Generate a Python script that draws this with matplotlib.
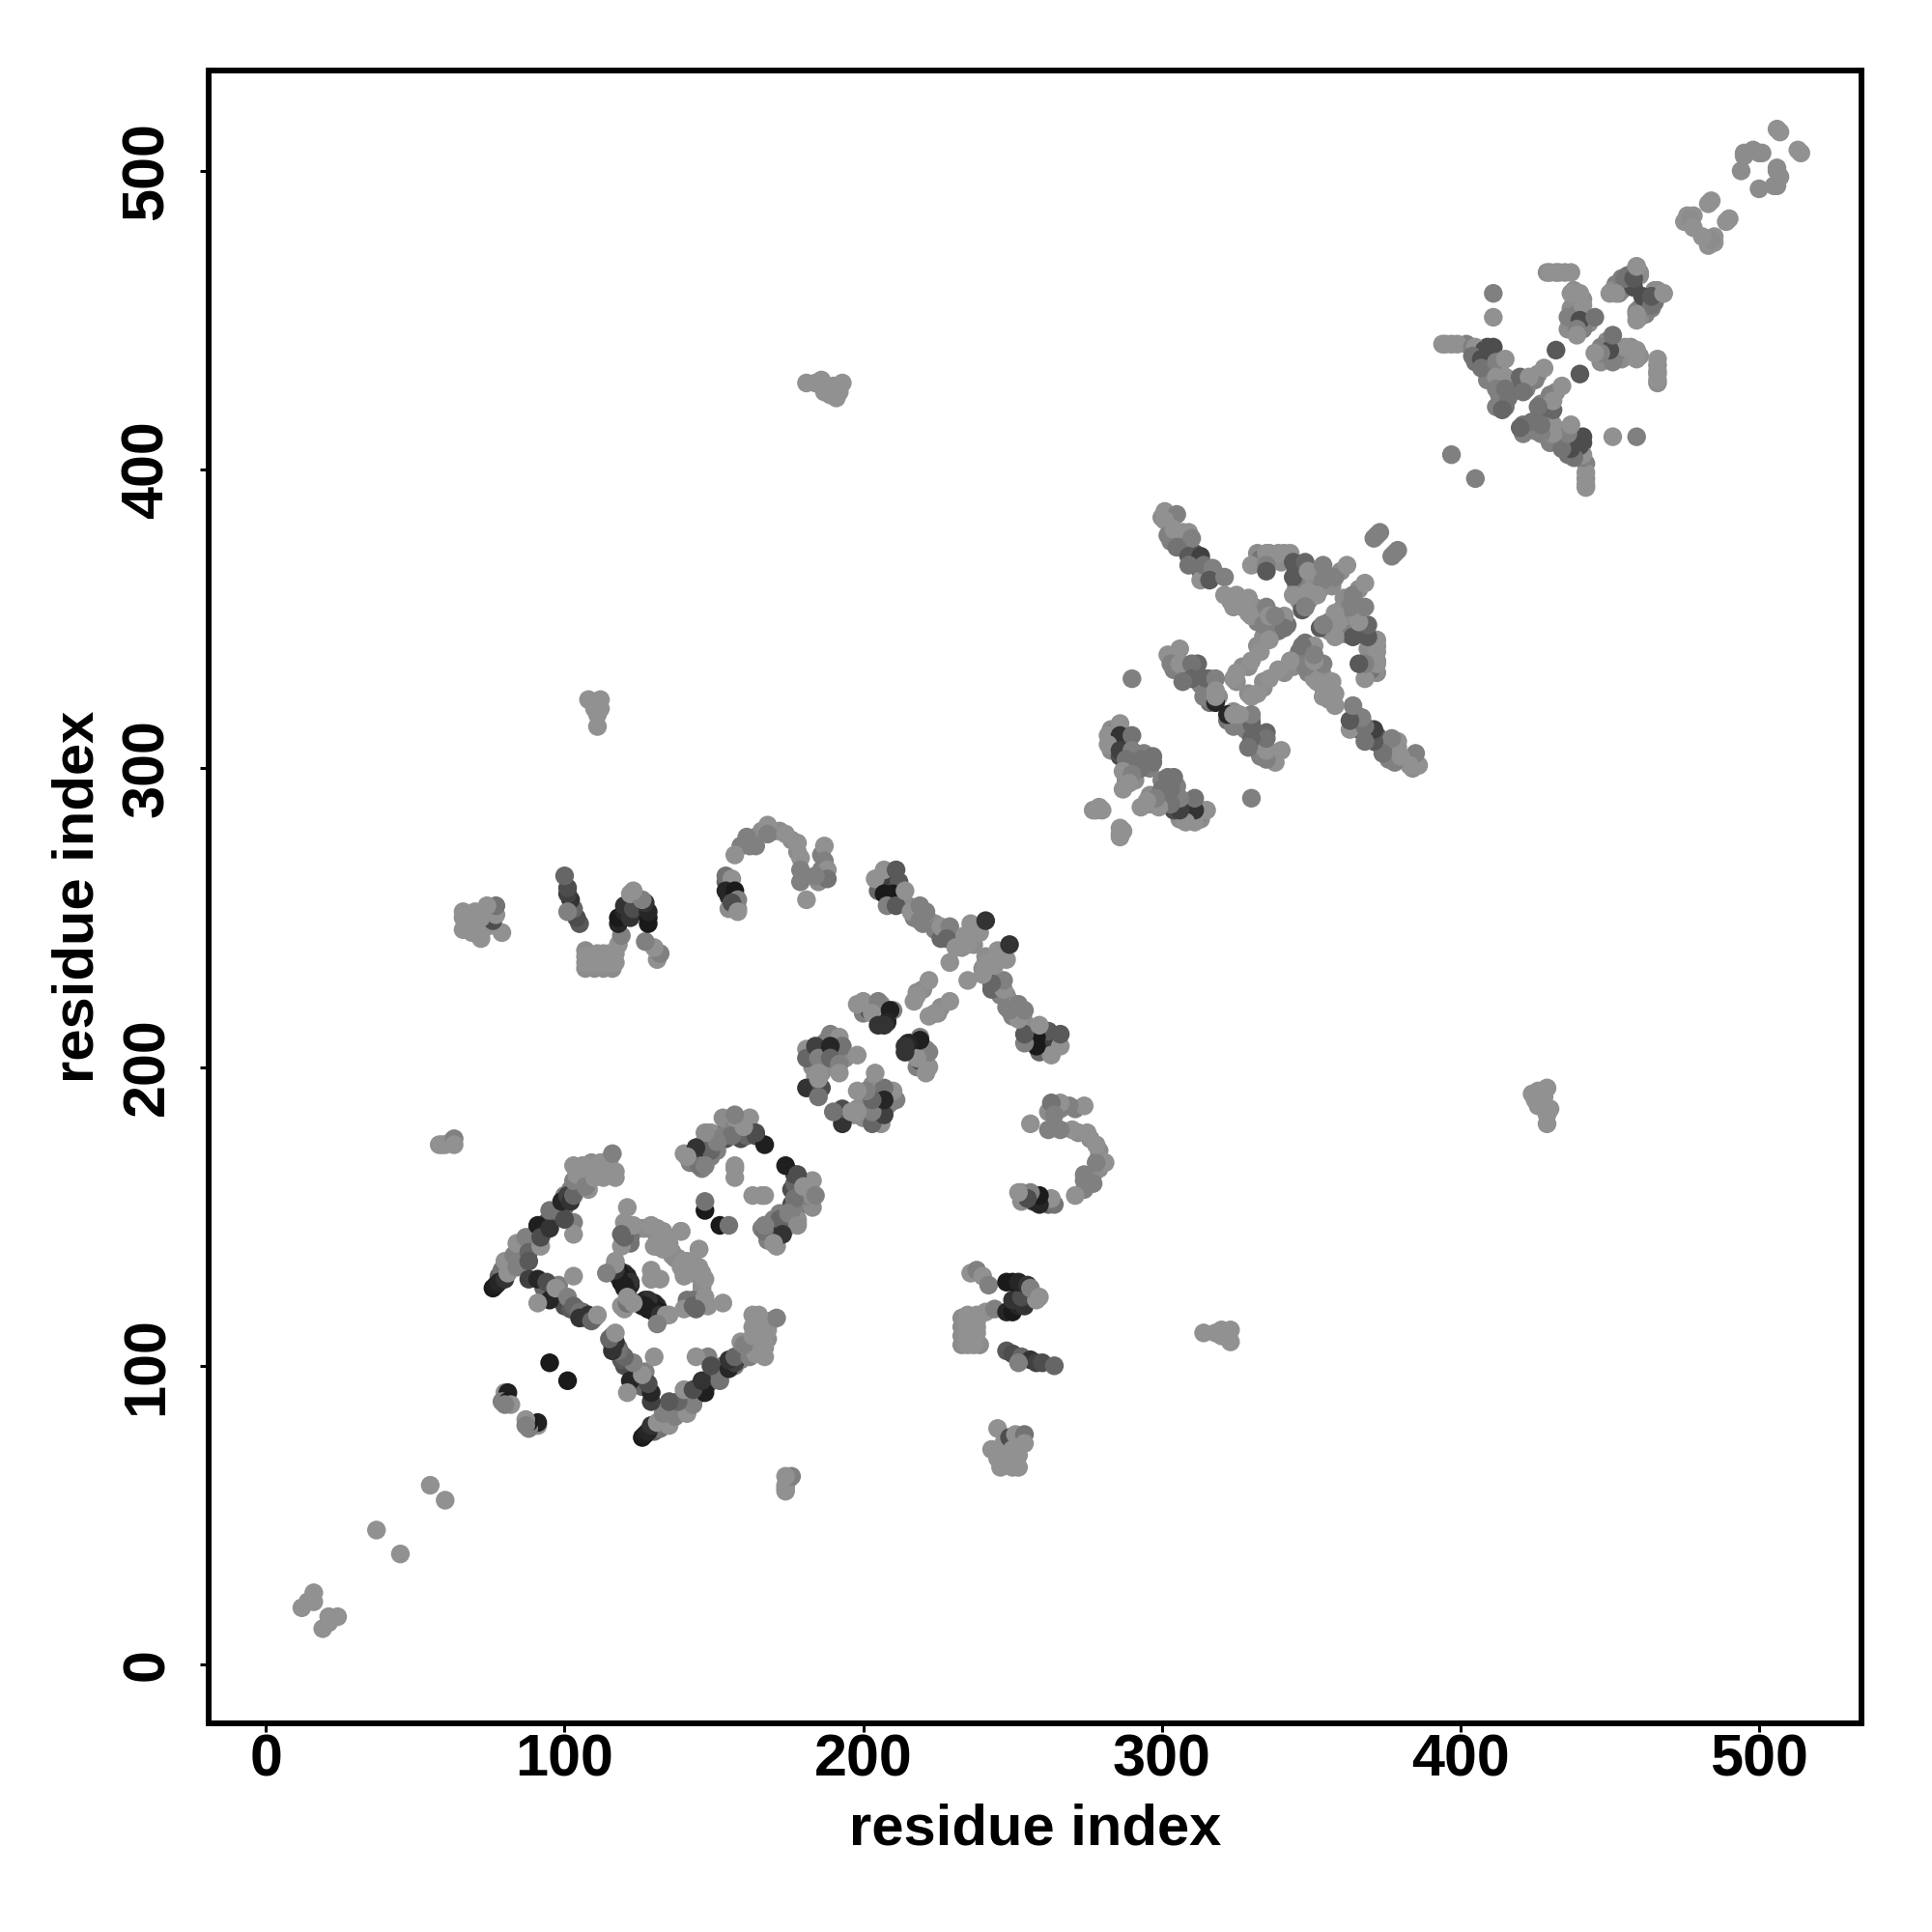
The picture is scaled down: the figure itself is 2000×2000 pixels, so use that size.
import matplotlib
matplotlib.use("Agg")
import matplotlib.pyplot as plt

L = 0.57
fill_i = [
 78,79,82,85,86,89,90,93,94,96,97,98,100,100,102,104,105,106,108,110,112,114,115,106,109,
 93,96,98,99,100,102,104,106,107,110,98,
 117,118,119,119,120,121,121,126,127,128,129,131,122,122,127,131,134,136,137,139,141,143,146,146,143,
 142,143,144,146,146,148,150,150,151,153,154,155,156,158,158,159,161,146,149,153,157,158,159,160,161,149,151,
 183,186,187,188,190,190,191,191,189,193,194,190,183,184,186,187,185,
 200,202,204,206,206,205,208,210,206,
 205,208,209,209,213,215,217,218,220,220,222,224,224,226,228,230,232,233,235,237,220,218,
 159,162,164,166,170,172,176,178,180,186,185,187,186,154,155,155,156,155,158,
 300,303,303,306,307,307,308,311,311,313,315,318,323,326,327,331,332,331,335,337,339,339,342,337,
 332,336,341,333,337,340,345,346,345,347,345,348,350,352,351,353,355,357,360,349,346,347,
 334,332,329,327,325,303,305,304,308,311,312,312,313,316,316,319,316,
 284,283,284,283,285,286,288,288,288,290,294,295,289,291,291,293,296,288,297,291,
 397,402,406,406,409,405,408,409,410,409,413,413,413,413,416,414,412,416,418,422,419,426,425,
 429,432,435,438,438,441,437,439,441,442,437,436,443,440,441,
 452,456,457,460,462,463,465,460,460,
 107,110,113,116,108,110,112,114,116,107,
]
fill_j = [
 130,132,134,136,139,141,144,145,148,149,150,152,153,157,159,160,162,164,165,166,165,167,169,167,168,
 126,124,124,122,120,119,119,118,116,116,127,
 133,130,131,128,131,130,126,120,122,119,120,118,145,141,146,140,143,138,136,134,131,131,126,124,122,
 168,170,171,170,174,173,174,177,175,178,176,179,177,179,181,177,180,166,170,183,181,178,176,178,177,178,172,
 204,206,208,209,207,205,204,202,203,205,203,200,200,197,198,200,194,
 218,219,219,218,216,216,216,219,221,
 259,262,261,256,255,254,250,250,252,248,249,248,246,243,245,243,242,240,243,241,226,225,
 274,274,277,279,279,279,276,272,264,266,262,265,271,262,261,257,257,253,253,
 384,381,376,377,379,374,373,372,368,366,365,365,356,355,354,354,349,351,352,350,349,346,348,347,
 372,372,372,370,370,369,366,365,362,361,360,362,364,365,362,360,365,361,366,356,356,353,
 344,341,334,334,329,337,338,333,332,331,335,330,328,326,322,324,330,
 309,313,312,306,309,304,308,311,304,303,305,302,300,300,296,302,300,296,302,304,
 442,442,440,438,441,436,435,433,436,430,434,431,428,425,428,423,421,424,430,427,428,432,430,
 466,466,466,460,457,457,454,452,451,450,449,447,449,448,447,
 462,465,462,466,457,456,460,454,451,
 233,233,233,233,234,234,234,234,234,239,
]
fill_shade = [
 .4,.45,.5,.5,.5,.5,.4,.35,.3,.3,.4,.4,.45,.5,.5,.5,.5,.55,.55,.55,.55,.55,.55,.55,.55,
 .4,.4,.45,.45,.3,.35,.4,.4,.35,.5,.5,
 .2,.1,.1,.12,.2,.15,.4,.15,.12,.1,.12,.12,.5,.45,.55,.55,.55,.55,.55,.55,.55,.55,.55,.55,.45,
 .5,.45,.3,.4,.55,.45,.3,.5,.35,.45,.3,.5,.35,.5,.55,.45,.55,.5,.5,.55,.5,.35,.3,.25,.4,.55,.5,
 .5,.4,.5,.5,.3,.2,.35,.45,.5,.5,.55,.5,.55,.55,.55,.55,.55,
 .5,.3,.2,.25,.2,.15,.15,.5,.55,
 .4,.45,.25,.2,.5,.55,.5,.5,.5,.5,.5,.55,.5,.4,.5,.5,.55,.55,.55,.55,.55,.55,
 .5,.5,.5,.55,.55,.55,.55,.55,.5,.5,.55,.5,.5,.4,.2,.2,.3,.55,.55,
 .55,.5,.5,.5,.55,.45,.4,.35,.4,.35,.35,.5,.55,.55,.55,.55,.5,.55,.5,.55,.5,.45,.45,.5,
 .55,.55,.55,.45,.55,.55,.3,.35,.3,.5,.5,.5,.5,.5,.55,.5,.5,.55,.55,.5,.55,.35,
 .55,.55,.55,.55,.55,.5,.5,.5,.55,.4,.4,.4,.5,.5,.45,.55,.5,
 .5,.55,.5,.55,.3,.3,.45,.4,.5,.45,.5,.45,.5,.55,.55,.5,.5,.55,.45,.4,
 .55,.5,.3,.4,.3,.45,.4,.5,.45,.5,.5,.5,.45,.5,.5,.45,.5,.45,.4,.5,.4,.55,.5,
 .55,.55,.55,.55,.55,.55,.55,.5,.45,.5,.5,.55,.55,.45,.5,
 .5,.45,.4,.55,.45,.5,.55,.55,.55,
 .55,.55,.55,.55,.55,.55,.55,.55,.55,.55,
]
res_i = [
 12,14,16,16,37,55,
 58,59,60,62,63,63,
 181,184,186,187,189,190,191,192,193,
 108,110,111,111,112,112,
 72,69,66,68,66,66,74,79,76,77,77,74,72,70,
 107,109,111,113,115,117,107,109,111,113,115,117,118,119,
 131,132,130,127,118,118,120,122,120,123,128,128,128,127,122,126,123,
 105,104,103,102,101,101,100,101,
 76,77,78,80,81,80,84,83,84,87,88,88,92,91,92,95,95,103,103,100,99,101,102,103,103,104,103,107,108,107,110,112,113,116,117,117,
 88,91,94,95,91,97,101,103,105,105,108,109,111,103,
 116,117,118,120,122,125,127,130,132,134,131,
 121,119,120,120,123,129,131,133,139,130,135,133,139,135,129,129,122,119,119,121,121,
 95,80,81,79,81,82,80,
 140,144,145,148,149,147,152,156,157,160,162,164,167,164,160,157,157,157,157,151,147,144,141,147,147,147,
 157,161,164,168,168,174,178,179,179,179,181,187,187,188,188,184,
 154,156,154,157,158,156,158,
 204,207,211,212,207,210,208,211,214,216,219,221,219,226,229,228,231,235,236,239,241,234,229,222,218,217,
 198,200,204,205,203,209,208,207,205,
 181,181,184,185,189,192,193,189,189,192,198,192,185,181,186,185,185,
 301,305,301,302,304,309,310,305,309,313,309,313,314,317,316,321,
 321,325,329,324,329,330,335,334,336,341,341,338,
 335,339,343,330,335,335,344,348,344,349,354,358,362,354,344,349,352,348,348,
 371,372,373,
 336,333,330,325,324,
 302,306,303,306,310,310,307,315,318,314,318,318,318,
 286,282,286,290,282,286,290,288,297,293,287,293,290,287,289,
 277,278,280,279,290,
 411,411,395,399,404,405,408,411,404,407,407,412,415,412,415,412,415,415,414,420,423,428,421,432,
 430,433,437,437,440,441,436,440,445,439,439,
 450,453,459,454,458,458,464,464,468,459,
 397,394,
 507,506,495,500,494,495,498,501,
 475,476,478,477,484,483,478,
]
res_j = [
 19,21,21,24,45,60,
 174,174,174,175,176,174,
 429,429,430,426,425,428,424,426,429,
 323,320,314,318,320,323,
 243,245,246,248,250,252,247,245,249,251,254,254,250,252,
 235,235,235,235,235,235,237,237,238,238,238,238,241,244,
 236,238,240,242,248,250,252,250,254,253,248,250,252,255,258,256,259,
 248,250,253,256,258,260,264,252,
 126,127,128,129,131,135,133,137,141,143,138,135,140,147,143,146,152,148,144,149,155,157,155,157,162,164,167,167,159,160,163,168,163,171,165,163,
 129,129,128,122,121,126,123,120,118,116,117,115,117,130,
 132,135,132,129,128,121,120,118,117,117,114,
 153,140,143,148,147,147,146,145,145,140,141,139,145,140,132,129,147,144,120,121,123,
 101,91,91,88,88,87,87,
 171,172,167,178,172,167,176,177,183,182,183,177,174,178,180,184,166,163,167,175,178,173,170,152,155,167,
 271,277,274,281,278,278,275,270,266,262,256,274,269,266,263,264,
 264,263,259,259,256,255,252,
 263,266,266,262,258,258,254,254,259,252,254,252,249,247,247,243,240,241,248,245,249,244,235,229,224,222,
 221,222,221,222,218,219,215,214,214,
 206,203,207,203,211,210,207,207,203,201,204,198,198,193,193,196,190,
 386,385,383,378,380,379,377,374,371,371,368,363,368,367,363,364,
 358,358,357,354,352,351,354,348,351,351,347,351,
 372,372,372,368,368,366,369,369,364,366,368,364,368,363,358,359,358,354,354,
 377,378,379,
 343,339,336,332,330,
 338,340,335,335,335,330,329,330,330,324,326,322,324,
 315,311,311,311,308,306,306,303,304,303,299,300,298,293,295,
 286,286,286,287,330,
 459,451,442,442,441,441,440,441,438,437,434,436,437,431,431,427,427,421,420,431,431,434,426,440,
 466,466,466,459,459,455,451,450,451,447,445,
 459,459,468,464,464,461,455,458,459,452,
 405,442,
 513,514,506,506,500,505,507,506,
 483,485,485,484,490,489,481,
]
shade = [
 L,L,L,L,L,L,
 L,L,L,L,.5,L,
 L,L,L,L,L,L,L,L,L,
 L,L,L,L,L,L,
 L,L,L,L,L,L,L,L,.3,L,.45,L,L,L,
 L,L,L,L,L,L,L,L,L,L,L,L,L,.5,
 L,.5,L,.5,.15,.1,.15,.2,.2,.3,.1,.1,.15,.2,L,.5,L,
 .35,.3,.4,.2,.25,.3,.4,.5,
 .1,.12,.15,.2,L,L,.5,.5,L,.5,.4,.35,L,.12,.3,.2,.45,.5,L,.3,.15,.25,.2,.4,.5,L,L,L,L,.5,L,L,L,.5,L,L,
 .25,.15,.3,.15,L,L,.5,.4,.45,.2,.2,.4,L,L,
 .5,L,.1,.1,.2,.15,.12,.12,.2,L,.5,
 L,L,.4,L,L,L,L,L,L,L,L,L,L,L,L,L,L,.4,L,.45,L,
 .1,L,.12,.5,.1,L,.5,
 L,.2,.45,L,.4,.5,.5,.45,L,L,L,.3,.12,.3,L,.5,L,L,L,.5,.55,.2,L,.1,.45,.5,
 L,.5,.5,L,.5,L,L,L,.5,.5,L,L,.5,L,.45,.5,
 .45,L,.15,.1,.5,.3,L,
 L,L,.35,.35,.1,.1,.5,.35,L,L,.5,.5,.5,L,.5,.4,L,L,L,L,.2,L,L,L,L,L,
 L,L,L,.5,L,.12,.15,.2,.2,
 L,.4,.25,.5,.5,L,.45,.15,.4,.5,L,L,L,.2,.3,L,.45,
 L,.5,L,.5,L,L,.5,.45,.35,.25,.45,L,.45,.5,.35,.5,
 L,L,L,L,L,L,.5,.5,L,L,.45,.5,
 L,L,L,L,.5,.35,.35,.4,.35,L,.5,.5,L,.5,L,L,L,.4,.5,
 .5,.5,.5,
 L,L,L,L,L,
 L,L,.5,L,.45,.4,.45,.4,.5,.5,L,.15,L,
 L,L,.2,.45,L,.25,.5,.45,.45,.45,L,.45,.5,L,L,
 L,L,L,L,.5,
 .5,L,L,L,.5,L,.3,.3,.45,.3,.45,.5,L,L,L,.5,.45,.45,.4,.4,L,L,.45,.35,
 L,L,L,L,L,L,.5,.3,.45,.5,L,
 L,.5,L,.5,.4,.3,.45,.35,L,L,
 .5,L,
 L,L,.55,.55,.55,.55,.55,.55,
 L,L,L,.55,L,L,L,
]
tick_values = [0, 100, 200, 300, 400, 500]
axis_title = "residue index"

assert len(res_i) == len(res_j) == len(shade), (len(res_i), len(res_j), len(shade))
assert len(fill_i) == len(fill_j) == len(fill_shade), (len(fill_i), len(fill_j), len(fill_shade))

all_i = fill_i + res_i
all_j = fill_j + res_j
all_g = fill_shade + shade
xs, ys, cs = [], [], []
for a, b, g in zip(all_i, all_j, all_g):
    xs += [a, b]
    ys += [b, a]
    cs += [(g, g, g), (g, g, g)]

plt.rcParams['font.family'] = ['Liberation Sans', 'DejaVu Sans']
fig = plt.figure(figsize=(20, 20), dpi=100)
ax = fig.add_axes([216/2000, 216/2000, 1711/2000, 1711/2000])
ax.scatter(xs, ys, s=195, c=cs, linewidths=0, zorder=2)
ax.set_xlim(-19.2, 534.3)
ax.set_ylim(-19.7, 533.6)
ax.set_xticks(tick_values)
ax.set_yticks(tick_values)
ax.tick_params(axis='both', length=6.5, width=2.2, labelsize=44)
ax.tick_params(axis='x', pad=1)
ax.tick_params(axis='y', pad=18)
for t in ax.get_xticklabels() + ax.get_yticklabels():
    t.set_fontweight('bold')
for t in ax.get_yticklabels():
    t.set_rotation(90)
    t.set_va('center')
for s in ax.spines.values():
    s.set_linewidth(4.3)
ax.set_xlabel(axis_title, fontsize=43, fontweight='bold')
ax.set_ylabel(axis_title, fontsize=43, fontweight='bold')
ax.xaxis.set_label_coords(0.5, -0.0485)
ax.yaxis.set_label_coords(-0.0626, 0.5)
fig.savefig("out.png", dpi=100)
